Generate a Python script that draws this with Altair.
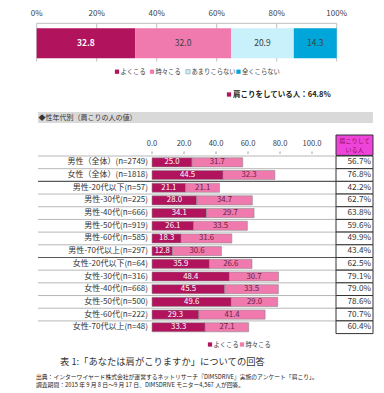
import altair as alt
import pandas as pd

# ---------------- data ----------------
top_categories = ["よくこる", "時々こる", "あまりこらない", "全くこらない"]
top_values = [32.8, 32.0, 20.9, 14.3]
top_colors = ["#B1135C", "#F07AAE", "#C8F1FB", "#00A6DA"]
top_ticks = [0, 20, 40, 60, 80, 100]
summary_label = "肩こりをしている人"

group_labels = [
    "男性（全体）(n=2749)", "女性（全体）(n=1818)",
    "男性-20代以下(n=57)", "男性-30代(n=225)", "男性-40代(n=666)",
    "男性-50代(n=919)", "男性-60代(n=585)", "男性-70代以上(n=297)",
    "女性-20代以下(n=64)", "女性-30代(n=316)", "女性-40代(n=668)",
    "女性-50代(n=500)", "女性-60代(n=222)", "女性-70代以上(n=48)",
]
often = [25.0, 44.5, 21.1, 28.0, 34.1, 26.1, 18.3, 12.8, 35.9, 48.4, 45.5, 49.6, 29.3, 33.3]
sometimes = [31.7, 32.3, 21.1, 34.7, 29.7, 33.5, 31.6, 30.6, 26.6, 30.7, 33.5, 29.0, 41.4, 27.1]
bottom_series = ["よくこる", "時々こる"]
bottom_colors = ["#B1135C", "#F07AAE"]
bottom_ticks = [0, 20, 40, 60, 80, 100]

section_title = "◆性年代別（肩こりの人の値）"
header_cell = ["肩こりして", "いる人"]
caption = "表 1:「あなたは肩がこりますか」についての回答"
source_lines = [
    "出典：インターワイヤード株式会社が運営するネットリサーチ『DIMSDRIVE』実施のアンケート「肩こり」。",
    "調査期間：2015 年 9 月 8 日～9 月 17 日、DIMSDRIVE モニター4,567 人が回答。",
]

# ---------------- layout ----------------
FONT = "Noto Sans CJK JP"
TXT = "#404040"
W = 365
H_A, H_B1, H_B2, H_B3 = 97, 50.4, 177.6, 60

one = pd.DataFrame({"k": [0]})

# ---------------- panel A: overall stacked bar ----------------
xa = alt.Scale(domain=[-28.7 / 3, (W - 28.7) / 3], nice=False, zero=False)
top_df = pd.DataFrame({"cat": top_categories, "val": top_values})
top_df["end"] = top_df["val"].cumsum()
top_df["start"] = top_df["end"] - top_df["val"]
top_df["mid"] = (top_df["start"] + top_df["end"]) / 2
top_df["grp"] = "all"
top_df["txt"] = top_df["val"].map(lambda v: f"{v:.1f}")
ya = alt.Y("grp:N", axis=None, scale=alt.Scale(range=[20.3, 50.3], paddingInner=0, paddingOuter=0))

ticks_a = pd.DataFrame({"t": top_ticks})
ticks_a["lab"] = ticks_a["t"].map(lambda v: f"{v}%")
span_a = pd.DataFrame({"a": [min(top_ticks)], "b": [max(top_ticks)]})

grid_a = alt.Chart(ticks_a).mark_rule(color="#BFBFBF", strokeWidth=1).encode(
    x=alt.X("t:Q", scale=xa, axis=None), y=alt.value(15.3), y2=alt.value(53.5))
line_a = alt.Chart(span_a).mark_rule(color="#BFBFBF", strokeWidth=1).encode(
    x=alt.X("a:Q", scale=xa), x2="b:Q", y=alt.value(15.3))
lab_a = alt.Chart(ticks_a).mark_text(font=FONT, fontSize=8, color=TXT, baseline="middle").encode(
    x=alt.X("t:Q", scale=xa), y=alt.value(6), text="lab:N")
bar_a = alt.Chart(top_df).mark_bar().encode(
    x=alt.X("start:Q", scale=xa), x2="end:Q", y=ya,
    color=alt.Color("cat:N", scale=alt.Scale(domain=top_categories, range=top_colors), legend=None))
val_a1 = alt.Chart(top_df).transform_filter(alt.datum.cat == top_categories[0]).mark_text(
    font=FONT, fontSize=8.5, fontWeight="bold", color="white", baseline="middle").encode(
    x=alt.X("mid:Q", scale=xa), y=ya, text="txt:N")
val_a2 = alt.Chart(top_df).transform_filter(alt.datum.cat != top_categories[0]).mark_text(
    font=FONT, fontSize=8.5, color=TXT, baseline="middle").encode(
    x=alt.X("mid:Q", scale=xa), y=ya, text="txt:N")

leg_a = pd.DataFrame({"cat": top_categories, "lx": [109, 144, 180, 230.5]})
leg_a["tx"] = leg_a["lx"] + 3.5
leg_fill = alt.Fill("cat:N", scale=alt.Scale(domain=top_categories, range=top_colors), legend=None)
leg_sq_a = alt.Chart(leg_a).mark_square(size=18, strokeWidth=0.7).encode(
    x=alt.X("lx:Q", scale=None), y=alt.value(63.7), fill=leg_fill,
    stroke=alt.condition(alt.datum.cat == top_categories[2], alt.value("#8AA9B4"), alt.value("transparent")),
    opacity=alt.value(1))
leg_tx_a = alt.Chart(leg_a).mark_text(font=FONT, fontSize=6.3, color=TXT, align="left", baseline="middle").encode(
    x=alt.X("tx:Q", scale=None), y=alt.value(63.7), text="cat:N")

summary_text = f"{summary_label}：{top_values[0] + top_values[1]:.1f}%"
sum_sq = alt.Chart(one).mark_square(size=18, color=top_colors[0], opacity=1).encode(
    x=alt.value(221), y=alt.value(86.5))
sum_tx = alt.Chart(one).mark_text(font=FONT, fontSize=7.5, fontWeight="bold", color="#222222",
                                  align="left", baseline="middle").encode(
    x=alt.value(225), y=alt.value(86.5), text=alt.value(summary_text))

panel_a = alt.layer(grid_a, line_a, lab_a, bar_a, val_a1, val_a2, leg_sq_a, leg_tx_a, sum_sq, sum_tx).properties(
    width=W, height=H_A)

# ---------------- panel B1: section header + axis ----------------
xb = alt.Scale(domain=[-144 / 1.6, (W - 144) / 1.6], nice=False, zero=False)
ticks_b = pd.DataFrame({"t": bottom_ticks})
ticks_b["lab"] = ticks_b["t"].map(lambda v: f"{v:.1f}")

band_b = alt.Chart(one).mark_rect(color="#D9D9D9").encode(
    x=alt.value(30), x2=alt.value(W), y=alt.value(7), y2=alt.value(18))
title_b = alt.Chart(one).mark_text(font=FONT, fontSize=7, color="#333333", align="left", baseline="middle").encode(
    x=alt.value(30.5), y=alt.value(12.5), text=alt.value(section_title))
lab_b = alt.Chart(ticks_b).mark_text(font=FONT, fontSize=7.6, color=TXT, baseline="middle").encode(
    x=alt.X("t:Q", scale=xb, axis=None), y=alt.value(38.5), text="lab:N")
tick_b = alt.Chart(ticks_b).mark_rule(color="#A0A0A0", strokeWidth=1).encode(
    x=alt.X("t:Q", scale=xb), y=alt.value(46.5), y2=alt.value(49))
head_cell = alt.Chart(one).mark_rect(color="#EE44DA", stroke="#333333", strokeWidth=1).encode(
    x=alt.value(328), x2=alt.value(W), y=alt.value(30), y2=alt.value(H_B1))
head_df = pd.DataFrame({"line": header_cell, "i": list(range(len(header_cell)))})
head_tx = alt.Chart(head_df).mark_text(font=FONT, fontSize=6.2, color="#9A0E63", baseline="middle").encode(
    x=alt.value(346.5),
    y=alt.Y("i:Q", axis=None, scale=alt.Scale(domain=[0, 1], range=[35.8, 45.3], nice=False, zero=False)),
    text="line:N")

panel_b1 = alt.layer(band_b, title_b, lab_b, tick_b, head_cell, head_tx).properties(width=W, height=H_B1)

# ---------------- panel B2: rows ----------------
rows = pd.DataFrame({"label": group_labels, "often": often, "sometimes": sometimes})
rows["total"] = rows["often"] + rows["sometimes"]
rows["pct"] = rows["total"].map(lambda v: f"{v:.1f}%")


def grp(lbl):
    return "全体" if "全体" in lbl else lbl[:2]


kinds = []
for i, lbl in enumerate(group_labels):
    if i == 0:
        kinds.append("normal")
    elif grp(group_labels[i - 1]) != grp(lbl):
        kinds.append("thick" if grp(group_labels[i - 1]) == "全体" else "medium")
    else:
        kinds.append("normal")
rows["kind"] = kinds

seg_rows = []
for lbl, a, b in zip(group_labels, often, sometimes):
    seg_rows.append({"label": lbl, "seg": bottom_series[0], "start": 0.0, "end": a, "mid": a / 2, "txt": f"{a:.1f}"})
    seg_rows.append({"label": lbl, "seg": bottom_series[1], "start": a, "end": a + b, "mid": a + b / 2, "txt": f"{b:.1f}"})
segs = pd.DataFrame(seg_rows)

yb = alt.Y("label:N", sort=group_labels, axis=None, scale=alt.Scale(paddingInner=0, paddingOuter=0))

sep = alt.Chart(rows).mark_rule().encode(
    y=alt.Y("label:N", sort=group_labels, axis=None, bandPosition=0),
    x=alt.value(30), x2=alt.value(328),
    stroke=alt.Stroke("kind:N", scale=alt.Scale(domain=["normal", "medium", "thick"],
                                                  range=["#A6A6A6", "#595959", "#595959"]), legend=None),
    strokeWidth=alt.StrokeWidth("kind:N", scale=alt.Scale(domain=["normal", "medium", "thick"],
                                                           range=[0.8, 1.3, 2.4]), legend=None))
bars_b = alt.Chart(segs).mark_bar(height={"band": 0.72}, stroke="#8C8C8C", strokeWidth=0.6).encode(
    x=alt.X("start:Q", scale=xb, axis=None), x2="end:Q", y=yb,
    color=alt.Color("seg:N", scale=alt.Scale(domain=bottom_series, range=bottom_colors), legend=None))
vals_b = alt.Chart(segs).mark_text(font=FONT, fontSize=7.8, baseline="middle").encode(
    x=alt.X("mid:Q", scale=xb), y=yb, text="txt:N",
    color=alt.condition(alt.datum.seg == bottom_series[0], alt.value("white"), alt.value("#6A1E46")))
names_b = alt.Chart(rows).mark_text(font=FONT, fontSize=8.0, color="#333333", align="right", baseline="middle").encode(
    x=alt.value(140), y=yb, text="label:N")
cells_b = alt.Chart(rows).mark_rect(fill="white", stroke="#333333", strokeWidth=1).encode(
    x=alt.value(328), x2=alt.value(W), y=yb)
pct_b = alt.Chart(rows).mark_text(font=FONT, fontSize=8.2, color="#333333", align="right", baseline="middle").encode(
    x=alt.value(363), y=yb, text="pct:N")

panel_b2 = alt.layer(sep, cells_b, bars_b, vals_b, names_b, pct_b).properties(width=W, height=H_B2)

# ---------------- panel B3: legend, caption, source ----------------
leg_b = pd.DataFrame({"seg": bottom_series, "lx": [202, 234]})
leg_b["tx"] = leg_b["lx"] + 3.5
leg_sq_b = alt.Chart(leg_b).mark_square(size=18, opacity=1).encode(
    x=alt.X("lx:Q", scale=None), y=alt.value(10.5),
    fill=alt.Fill("seg:N", scale=alt.Scale(domain=bottom_series, range=bottom_colors), legend=None))
leg_tx_b = alt.Chart(leg_b).mark_text(font=FONT, fontSize=6.3, color=TXT, align="left", baseline="middle").encode(
    x=alt.X("tx:Q", scale=None), y=alt.value(10.5), text="seg:N")
cap = alt.Chart(one).mark_text(font=FONT, fontSize=9.3, color="#333333", align="left", baseline="middle").encode(
    x=alt.value(52), y=alt.value(27.5), text=alt.value(caption))
src_df = pd.DataFrame({"line": source_lines, "i": list(range(len(source_lines)))})
src = alt.Chart(src_df).mark_text(font=FONT, fontSize=5.8, color="#222222", align="left", baseline="middle").encode(
    x=alt.value(28),
    y=alt.Y("i:Q", axis=None, scale=alt.Scale(domain=[0, 1], range=[43.3, 51.3], nice=False, zero=False)),
    text="line:N")

panel_b3 = alt.layer(leg_sq_b, leg_tx_b, cap, src).properties(width=W, height=H_B3)

chart = alt.vconcat(panel_a, panel_b1, panel_b2, panel_b3, spacing=0, bounds="flush").properties(
    padding=0, background="white"
).configure_view(stroke=None).resolve_scale(x="independent", y="independent")

chart.save("out.html", embed_options={"renderer": "svg", "actions": False})
